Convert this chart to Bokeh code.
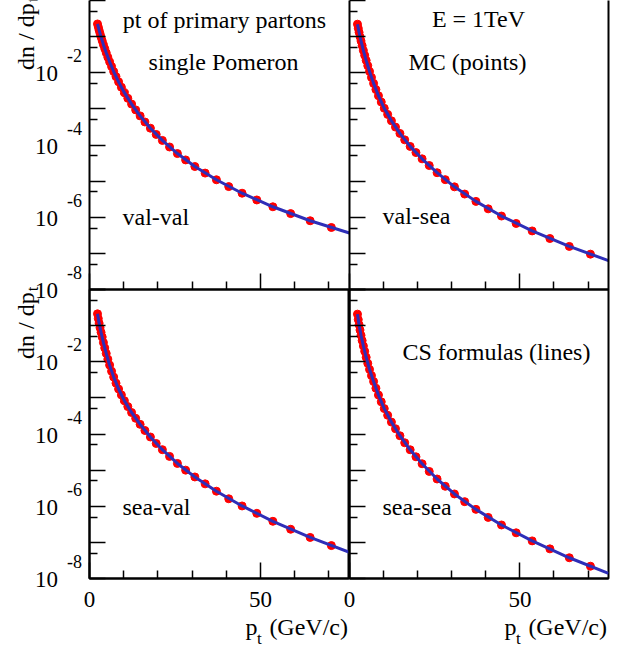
import numpy as np
from bokeh.plotting import figure
from bokeh.layouts import column, row
from bokeh.models import (FixedTicker, Range1d, CustomJSTickFormatter, LogScale,
                          LogAxis)
from bokeh.core.properties import value
from bokeh.embed import file_html
from bokeh.resources import INLINE

# ---------------- data ----------------
pt_mc = [2.34, 2.57, 2.81, 3.08, 3.38, 3.71, 4.07, 4.46, 4.89, 5.36, 5.88, 6.45,
         7.07, 7.75, 8.50, 9.32, 10.2, 11.2, 12.3, 13.5, 14.8, 16.2, 17.8, 19.5,
         21.3, 23.4, 25.7, 28.1, 30.8, 33.8, 37.1, 40.7, 44.6, 48.9, 53.6, 58.8,
         64.5, 70.7]

mc_val_val = [2.24e-1, 1.85e-1, 1.51e-1, 1.22e-1, 9.70e-2, 7.67e-2, 6.00e-2, 4.65e-2,
              3.56e-2, 2.69e-2, 2.01e-2, 1.49e-2, 1.08e-2, 7.82e-3, 5.60e-3, 3.98e-3,
              2.81e-3, 1.96e-3, 1.36e-3, 9.38e-4, 6.40e-4, 4.34e-4, 2.92e-4, 1.96e-4,
              1.34e-4, 8.81e-5, 5.79e-5, 3.86e-5, 2.54e-5, 1.67e-5, 1.09e-5, 7.05e-6,
              4.63e-6, 3.01e-6, 1.95e-6, 1.26e-6, 8.00e-7, 5.21e-7]
mc_val_sea = [2.21e-1, 1.71e-1, 1.32e-1, 1.00e-1, 7.59e-2, 5.66e-2, 4.15e-2, 3.05e-2,
              2.20e-2, 1.57e-2, 1.09e-2, 7.43e-3, 5.08e-3, 3.43e-3, 2.31e-3, 1.55e-3,
              1.04e-3, 7.03e-4, 4.68e-4, 3.13e-4, 2.09e-4, 1.39e-4, 9.14e-5, 6.17e-5,
              4.14e-5, 2.70e-5, 1.71e-5, 1.10e-5, 6.95e-6, 4.39e-6, 2.75e-6, 1.71e-6,
              1.08e-6, 6.73e-7, 4.18e-7, 2.58e-7, 1.56e-7, 9.53e-8]
mc_sea_val = [2.12e-1, 1.57e-1, 1.17e-1, 8.75e-2, 6.52e-2, 4.85e-2, 3.39e-2, 2.41e-2,
              1.70e-2, 1.18e-2, 8.07e-3, 5.46e-3, 3.76e-3, 2.56e-3, 1.76e-3, 1.21e-3,
              8.34e-4, 5.74e-4, 3.94e-4, 2.72e-4, 1.85e-4, 1.25e-4, 8.26e-5, 5.46e-5,
              3.68e-5, 2.40e-5, 1.53e-5, 1.00e-5, 6.47e-6, 4.17e-6, 2.61e-6, 1.61e-6,
              1.02e-6, 6.35e-7, 3.83e-7, 2.31e-7, 1.37e-7, 8.15e-8]
mc_sea_sea = [2.08e-1, 1.47e-1, 1.06e-1, 7.57e-2, 5.41e-2, 3.86e-2, 2.74e-2, 1.95e-2,
              1.33e-2, 9.02e-3, 6.14e-3, 4.13e-3, 2.84e-3, 1.85e-3, 1.20e-3, 7.78e-4,
              5.05e-4, 3.30e-4, 2.14e-4, 1.40e-4, 8.95e-5, 5.73e-5, 3.66e-5, 2.34e-5,
              1.50e-5, 9.20e-6, 5.68e-6, 3.57e-6, 2.19e-6, 1.34e-6, 8.20e-7, 4.92e-7,
              3.03e-7, 1.84e-7, 1.10e-7, 6.61e-8, 3.75e-8, 2.19e-8]

pt_cs = [2.34, 2.81, 3.38, 4.07, 4.89, 5.88, 7.07, 8.50, 10.2, 12.3, 14.8, 17.8,
         21.3, 25.7, 30.8, 37.1, 44.6, 53.6, 64.5, 76.0]
cs_val_val = [2.24e-1, 1.51e-1, 9.70e-2, 6.00e-2, 3.56e-2, 2.01e-2, 1.08e-2, 5.60e-3,
              2.81e-3, 1.36e-3, 6.40e-4, 2.92e-4, 1.34e-4, 5.79e-5, 2.54e-5, 1.09e-5,
              4.63e-6, 1.95e-6, 8.00e-7, 3.66e-7]
cs_val_sea = [2.21e-1, 1.32e-1, 7.59e-2, 4.15e-2, 2.20e-2, 1.09e-2, 5.08e-3, 2.31e-3,
              1.04e-3, 4.68e-4, 2.09e-4, 9.14e-5, 4.14e-5, 1.71e-5, 6.95e-6, 2.75e-6,
              1.08e-6, 4.18e-7, 1.56e-7, 6.31e-8]
cs_sea_val = [2.12e-1, 1.17e-1, 6.52e-2, 3.39e-2, 1.70e-2, 8.07e-3, 3.76e-3, 1.76e-3,
              8.34e-4, 3.94e-4, 1.85e-4, 8.26e-5, 3.68e-5, 1.53e-5, 6.47e-6, 2.61e-6,
              1.02e-6, 3.83e-7, 1.37e-7, 5.31e-8]
cs_sea_sea = [2.08e-1, 1.06e-1, 5.41e-2, 2.74e-2, 1.33e-2, 6.14e-3, 2.84e-3, 1.20e-3,
              5.05e-4, 2.14e-4, 8.95e-5, 3.66e-5, 1.50e-5, 5.68e-6, 2.19e-6, 8.20e-7,
              3.03e-7, 1.10e-7, 3.75e-8, 1.38e-8]

y_major = [1e-8, 1e-7, 1e-6, 1e-5, 1e-4, 1e-3, 1e-2, 1e-1, 1e0]
y_minor = [5e-9, 5e-8, 5e-7, 5e-6, 5e-5, 5e-4, 5e-3, 5e-2, 5e-1]
y_label_exp = [-2, -4, -6, -8]
x_major = [0, 50]
x_minor = [10, 20, 30, 40, 60, 70]

# ---------------- layout constants (pixels) ----------------
W, H = 629, 650
XL0, XL1, XR1 = 89, 349, 608      # frame edges left / split / right
YT0, YT1, YB1 = 0, 289, 578       # frame edges top / split / bottom
XMAX = 76.0
LOG_SPAN = 8.0                    # 1e-8 .. 1e0

FONT = "Liberation Serif"
BLUE = "#2e2eb8"
RED = "#ff0000"


def style_axis(ax, tin=16, tmin=8):
    ax.axis_line_width = 2
    ax.axis_line_color = "black"
    ax.major_tick_in = tin
    ax.major_tick_out = 0
    ax.minor_tick_in = tmin
    ax.minor_tick_out = 0
    ax.major_tick_line_width = 1.5
    ax.minor_tick_line_width = 1.5
    ax.formatter = CustomJSTickFormatter(code="return ''")
    ax.major_label_text_font_size = "2px"
    ax.major_label_standoff = 0


def make_panel(width, height, ml, mr, mt, mb, outline=True):
    p = figure(width=width, height=height, x_range=Range1d(0, XMAX),
               y_range=Range1d(1e-8, 1e0), y_axis_type="log",
               output_backend="svg", toolbar_location=None,
               min_border_left=ml, min_border_right=mr,
               min_border_top=mt, min_border_bottom=mb)
    p.grid.visible = False
    p.outline_line_color = "black" if outline else None
    p.outline_line_width = 2
    p.background_fill_alpha = 0
    p.border_fill_alpha = 0
    p.yaxis.ticker = FixedTicker(ticks=y_major, minor_ticks=y_minor)
    p.xaxis.ticker = FixedTicker(ticks=x_major, minor_ticks=x_minor)
    for ax in p.axis:
        style_axis(ax)
    return p


def draw(p, mc, cs):
    p.scatter(pt_mc, mc, size=8, marker="circle", color=RED)
    p.line(pt_cs, cs, line_width=3, color=BLUE)


BRD = 20
# top row: frame top lies at the very edge of the picture, so no outline there
tl = make_panel(XL1, YT1 + BRD, XL0, 0, 0, BRD, outline=False)
draw(tl, mc_val_val, cs_val_val)

tr = make_panel(W - XL1 + BRD, YT1 + BRD, BRD, W - XR1, 0, BRD, outline=False)
tr.margin = (0, 0, 0, -BRD)
edge = LogAxis(ticker=FixedTicker(ticks=[]))
style_axis(edge, 0, 0)
tr.add_layout(edge, "right")
draw(tr, mc_val_sea, cs_val_sea)

bl = make_panel(XL1, H - YT1 + BRD, XL0, 0, BRD, H - YB1)
draw(bl, mc_sea_val, cs_sea_val)

br = make_panel(W - XL1 + BRD, H - YT1 + BRD, BRD, W - XR1, BRD, H - YB1)
br.margin = (0, 0, 0, -BRD)
draw(br, mc_sea_sea, cs_sea_sea)

# ---------------- transparent overlay carrying all the texts ----------------
pxl = (XL1 - XL0) / XMAX
pxr = (XR1 - XL1) / XMAX
pdec = (YT1 - YT0) / LOG_SPAN
ov = figure(width=W, height=H, output_backend="svg", toolbar_location=None,
            x_axis_location=None, y_axis_location=None, min_border=0,
            x_range=Range1d(-XL0 / pxl, (W - XL0) / pxl),
            y_range=Range1d(10 ** (-(H - YT1) / pdec - 8), 10 ** (YT1 / pdec - 8)),
            y_axis_type="log")
ov.extra_x_ranges = {"xr": Range1d(-XL1 / pxr, (W - XL1) / pxr)}
ov.extra_y_ranges = {"yb": Range1d(10 ** (-(H - YB1) / pdec - 8), 10 ** (YB1 / pdec - 8))}
ov.extra_y_scales = {"yb": LogScale()}
ov.grid.visible = False
ov.outline_line_color = None
ov.background_fill_alpha = 0
ov.border_fill_alpha = 0
ov.margin = (-H, 0, 0, 0)

MID = 0.3375  # distance baseline -> middle of text box, in em


def t(xs, ys, texts, xr="default", yr="default", size=24, align="left",
      xo=0.0, yo=0.0, angle=0.0):
    ov.text(x=xs, y=ys, text=texts, x_range_name=xr, y_range_name=yr,
            text_font=value(FONT), text_font_size=value(f"{size}px"),
            text_align=align, text_baseline="middle",
            x_offset=xo, y_offset=yo, angle=angle, text_color="black")


def tb(xs, ys, texts, xr="default", yr="default", size=24, align="left",
       xo=0.0, yo=0.0):
    # (xo, yo) locate the baseline of horizontal text
    t(xs, ys, texts, xr, yr, size, align, xo, yo - MID * size)


for yr in ("default", "yb"):
    ys = [10.0 ** e for e in y_label_exp]
    t([0] * len(ys), ys, ["10"] * len(ys), "default", yr, 23, "center", xo=-43, yo=1)
    t([0] * len(ys), ys, [str(e) for e in y_label_exp], "default", yr, 18,
      "center", xo=-15, yo=-17)
    # rotated title: baseline x at 33.3 px, subscript baseline at 37.5 px
    t([0], [1e-2], ["dn / dp"], "default", yr, 24, "right",
      xo=-55.7 - MID * 24, yo=-69.4, angle=np.pi / 2)
    t([0], [1e-2], ["t"], "default", yr, 17, "left",
      xo=-51.5 - MID * 17, yo=-70.5, angle=np.pi / 2)

for xr in ("default", "xr"):
    tb(x_major, [1e-8] * len(x_major), [str(v) for v in x_major], xr, "yb", 23,
       "center", yo=29)
    tb([XMAX], [1e-8], ["p"], xr, "yb", 24, "left", xo=-104, yo=57)
    tb([XMAX], [1e-8], ["t"], xr, "yb", 17, "left", xo=-92.5, yo=66)
    tb([XMAX], [1e-8], ["(GeV/c)"], xr, "yb", 24, "right", xo=-1.5, yo=57)

tb([39.46], [0.168], ["pt of primary partons"], align="center")
tb([39.2], [0.01154], ["single Pomeron"], align="center")
tb([9.65], [5.91e-7], ["val-val"])
tb([37.85], [0.179], ["E = 1TeV"], xr="xr", align="center")
tb([34.6], [0.01154], ["MC (points)"], xr="xr", align="center")
tb([9.68], [6.30e-7], ["val-sea"], xr="xr")
tb([9.65], [5.54e-7], ["sea-val"], yr="yb")
tb([43.1], [0.01084], ["CS formulas (lines)"], xr="xr", yr="yb", align="center")
tb([9.68], [5.54e-7], ["sea-sea"], xr="xr", yr="yb")

layout = column(row(tl, tr), row(bl, br, margin=(-2 * BRD, 0, 0, 0)), ov)

open("out.html", "w").write(file_html(layout, INLINE))
